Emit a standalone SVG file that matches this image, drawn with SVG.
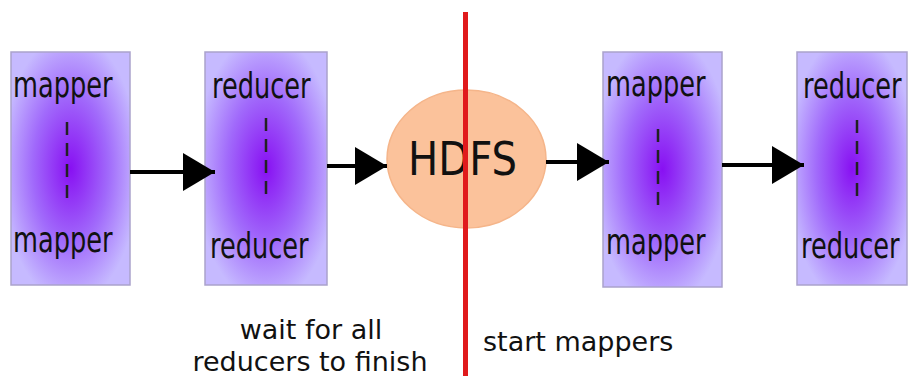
<svg xmlns="http://www.w3.org/2000/svg" width="908" height="376" viewBox="0 0 908 376">
<style>
.box{stroke:#aaa2cc;stroke-width:1.5;fill:url(#pg)}
.lbl{font-family:"DejaVu Sans Condensed","DejaVu Sans",sans-serif;font-stretch:condensed;font-size:28.5px;fill:#111}
.dash{stroke:#222;stroke-width:2.5;stroke-dasharray:13 8;fill:none}
.conn{stroke:#000;stroke-width:4;fill:none;marker-end:url(#ah)}
.note{font-family:"DejaVu Sans",sans-serif;font-size:27px;fill:#111}
</style>
<defs>
<radialGradient id="pg" cx="0.5" cy="0.5" r="0.58">
<stop offset="0" stop-color="#8810f2"/>
<stop offset="0.55" stop-color="#a16afb"/>
<stop offset="1" stop-color="#c6baff"/>
</radialGradient>
<marker id="ah" markerUnits="userSpaceOnUse" markerWidth="32" markerHeight="38" refX="32" refY="19" orient="auto">
<path d="M0,0 L32,19 L0,38 Z" fill="#000"/>
</marker>
</defs>
<rect width="908" height="376" fill="#fff"/>
<g id="mappers1">
<rect class="box" x="11" y="52" width="119" height="233"/>
<text class="lbl" transform="translate(13,97) scale(1,1.26)">mapper</text>
<line class="dash" x1="67" y1="122" x2="67" y2="205"/>
<text class="lbl" transform="translate(13,252) scale(1,1.26)">mapper</text>
</g>
<g id="reducers1">
<rect class="box" x="205" y="52" width="122" height="233"/>
<text class="lbl" transform="translate(212,98) scale(1,1.26)">reducer</text>
<line class="dash" x1="266" y1="118" x2="266" y2="201"/>
<text class="lbl" transform="translate(210,258) scale(1,1.26)">reducer</text>
</g>
<g id="hdfs">
<ellipse cx="466.5" cy="159" rx="79.5" ry="69" fill="#fbc29b" stroke="#f5b58a" stroke-width="1.5"/>
<text x="408" y="175" font-family="'DejaVu Sans Condensed','DejaVu Sans',sans-serif" font-size="47" fill="#111" textLength="109" lengthAdjust="spacingAndGlyphs">HDFS</text>
</g>
<g id="mappers2">
<rect class="box" x="603" y="52" width="119" height="235"/>
<text class="lbl" transform="translate(606,96) scale(1,1.26)">mapper</text>
<line class="dash" x1="658" y1="129" x2="658" y2="212"/>
<text class="lbl" transform="translate(606,254) scale(1,1.26)">mapper</text>
</g>
<g id="reducers2">
<rect class="box" x="797" y="52" width="110" height="233"/>
<text class="lbl" transform="translate(803,98) scale(1,1.26)">reducer</text>
<line class="dash" x1="857" y1="120" x2="857" y2="203"/>
<text class="lbl" transform="translate(801,258) scale(1,1.26)">reducer</text>
</g>
<g id="connectors">
<line class="conn" x1="130" y1="172" x2="215" y2="172"/>
<line class="conn" x1="327" y1="166" x2="387" y2="166"/>
<line class="conn" x1="546" y1="162" x2="609" y2="162"/>
<line class="conn" x1="722" y1="165" x2="804" y2="165"/>
</g>
<g id="divider">
<line x1="465.5" y1="12" x2="465.5" y2="376" stroke="#e01a1c" stroke-width="5"/>
</g>
<g id="notes">
<text class="note" x="311" y="339" text-anchor="middle">wait for all</text>
<text class="note" x="310" y="371" text-anchor="middle">reducers to finish</text>
<text class="note" x="483" y="351">start mappers</text>
</g>
</svg>
